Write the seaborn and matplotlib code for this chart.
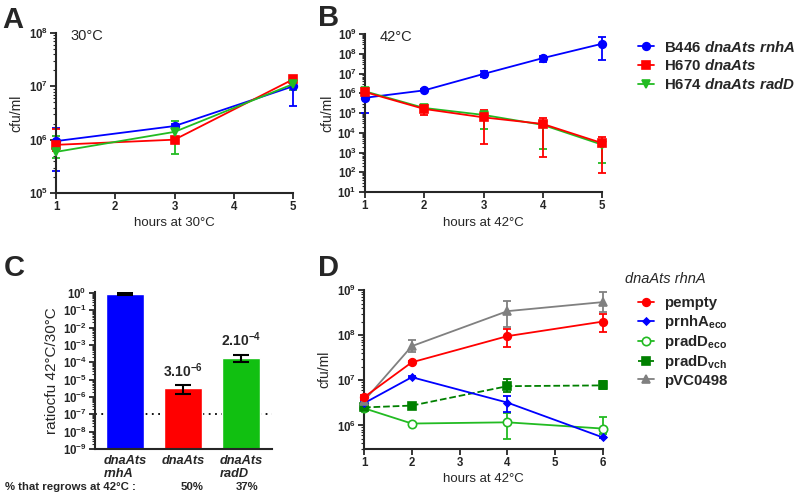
import numpy as np
import pandas as pd
import matplotlib
matplotlib.use("Agg")
import matplotlib.pyplot as plt
import matplotlib.ticker as mticker
import seaborn as sns

# ---------------------------------------------------------
# Data
# ---------------------------------------------------------
# A: 30C growth
hours_a = [1, 3, 5]
a_rnhA = [9.4e5, 1.8e6, 1.0e7]
a_rnhA_lo = [2.6e5, 1.65e6, 4.3e6]
a_rnhA_hi = [1.65e6, 1.95e6, 1.5e7]
a_dnaA = [8.0e5, 1.0e6, 1.35e7]
a_dnaA_lo = [6.0e5, 8.5e5, 1.15e7]
a_dnaA_hi = [1.6e6, 1.1e6, 1.5e7]
a_radD = [5.9e5, 1.4e6, 1.1e7]
a_radD_lo = [4.5e5, 5.4e5, 8.5e6]
a_radD_hi = [1.15e6, 2.25e6, 1.3e7]

# B: 42C growth
hours_b = [1, 2, 3, 4, 5]
b_rnhA = [5.9e5, 1.4e6, 9.5e6, 6.0e7, 3.2e8]
b_rnhA_lo = [1.0e5, 1.25e6, 7.0e6, 4.0e7, 5.0e7]
b_rnhA_hi = [9.0e5, 1.55e6, 1.3e7, 8.0e7, 7.0e8]
b_dnaA = [1.15e6, 1.6e5, 6.0e4, 2.8e4, 3.0e3]
b_dnaA_lo = [8.0e5, 8.0e4, 2.7e3, 6.0e2, 9.0e1]
b_dnaA_hi = [1.5e6, 2.5e5, 1.4e5, 5.5e4, 6.0e3]
b_radD = [1.25e6, 1.8e5, 8.0e4, 2.5e4, 2.5e3]
b_radD_lo = [1.0e6, 1.2e5, 1.5e4, 1.5e3, 3.0e2]
b_radD_hi = [1.5e6, 2.3e5, 1.0e5, 4.0e4, 4.0e3]

strain_labels = ["B446 dnaAts rnhA", "H670 dnaAts", "H674 dnaAts radD"]

# C: survival ratio
strains_c = ["dnaAts\nrnhA", "dnaAts", "dnaAts\nradD"]
ratio_c = [0.88, 3.2e-6, 1.9e-4]
ratio_c_lo = [0.80, 1.4e-6, 1.1e-4]
ratio_c_hi = [0.98, 4.7e-6, 2.8e-4]
ratio_text = ["", "3.10$^{-6}$", "2.10$^{-4}$"]
regrow_text = ["", "50%", "37%"]
detect_limit = 1e-7

# D: complementation at 42C
hours_d = [1, 2, 4, 6]
d_empty = [4.2e6, 2.5e7, 9.5e7, 2.0e8]
d_empty_lo = [3.6e6, 2.3e7, 5.4e7, 1.2e8]
d_empty_hi = [4.8e6, 2.7e7, 1.35e8, 3.0e8]
d_rnhA = [3.1e6, 1.17e7, 3.2e6, 5.4e5]
d_rnhA_lo = [2.8e6, 1.1e7, 1.95e6, 5.2e5]
d_rnhA_hi = [3.4e6, 1.25e7, 4.4e6, 5.6e5]
d_radD_eco = [2.4e6, 1.1e6, 1.17e6, 8.5e5]
d_radD_eco_lo = [2.2e6, 1.05e6, 4.9e5, 6.5e5]
d_radD_eco_hi = [2.6e6, 1.15e6, 1.85e6, 1.5e6]
d_radD_vch = [2.5e6, 2.75e6, 7.4e6, 7.7e6]
d_radD_vch_lo = [2.3e6, 2.6e6, 5.4e6, 6.3e6]
d_radD_vch_hi = [2.7e6, 2.9e6, 1.05e7, 9.5e6]
d_vc0498 = [3.5e6, 5.7e7, 3.4e8, 5.4e8]
d_vc0498_lo = [3.2e6, 4.2e7, 1.5e8, 3.2e8]
d_vc0498_hi = [3.8e6, 7.8e7, 5.8e8, 9.1e8]

plasmid_labels = ["pempty", "prnhA$_{\\mathrm{eco}}$", "pradD$_{\\mathrm{eco}}$",
                  "pradD$_{\\mathrm{vch}}$", "pVC0498"]

# ---------------------------------------------------------
# Style
# ---------------------------------------------------------
sns.set_style("ticks")
plt.rcParams["font.family"] = ["Liberation Sans", "DejaVu Sans"]
plt.rcParams["mathtext.fontset"] = "custom"
plt.rcParams["mathtext.rm"] = "Liberation Sans:bold"
plt.rcParams["mathtext.bf"] = "Liberation Sans:bold"
plt.rcParams["mathtext.it"] = "Liberation Sans:italic:bold"

BLUE = "#0000ff"
RED = "#ff0000"
GREEN = "#22bb22"
DKGREEN = "#008000"
GRAY = "#808080"
TICK_FS = 8.3
LAB_FS = 9.5
LEG_FS = 10.8
LW = 1.3


def px(x, y):
    return x / 800, 1 - y / 497


def log_axis(ax, lo, hi):
    ax.set_yscale("log")
    ax.set_ylim(lo, hi)
    ax.yaxis.set_major_locator(mticker.LogLocator(base=10, numticks=20))
    ax.yaxis.set_minor_locator(mticker.LogLocator(base=10, subs=np.arange(2, 10), numticks=20))
    ax.yaxis.set_minor_formatter(mticker.NullFormatter())
    ax.yaxis.set_major_formatter(
        mticker.FuncFormatter(lambda v, _: "$\\mathbf{10^{%d}}$" % int(round(np.log10(v)))))


def style_axis(ax):
    sns.despine(ax=ax)
    for s in ["left", "bottom"]:
        ax.spines[s].set_linewidth(1.5)
    ax.tick_params(which="major", direction="out", length=4, width=1.3, labelsize=TICK_FS, pad=2)
    ax.tick_params(which="minor", direction="out", length=2, width=0.8)
    for t in ax.get_xticklabels():
        t.set_fontweight("bold")


def draw_series(ax, x, y, lo, hi, color, marker, label, ms=5.5, ls="-", mfc=None):
    df = pd.DataFrame({"x": x, "y": y})
    sns.lineplot(data=df, x="x", y="y", ax=ax, color=color, marker=marker, markersize=ms,
                 markeredgecolor=color, markerfacecolor=mfc if mfc else color,
                 markeredgewidth=1.2, linestyle=ls, linewidth=LW, label=label,
                 legend=False, clip_on=False, zorder=3)
    y = np.array(y)
    err = [y - np.array(lo), np.array(hi) - y]
    eb = ax.errorbar(x, y, yerr=err, fmt="none", ecolor=color, elinewidth=LW,
                     capsize=3, capthick=LW, zorder=2)
    for art in list(eb.lines[1]) + list(eb.lines[2]):
        art.set_clip_on(False)


fig = plt.figure(figsize=(8, 4.97), dpi=100)

# ---------------------------------------------------------
# A
# ---------------------------------------------------------
axA = fig.add_axes([56 / 800, 1 - 193 / 497, 237 / 800, 160 / 497])
log_axis(axA, 1e5, 1e8)
draw_series(axA, hours_a, a_rnhA, a_rnhA_lo, a_rnhA_hi, BLUE, "o", strain_labels[0])
draw_series(axA, hours_a, a_dnaA, a_dnaA_lo, a_dnaA_hi, RED, "s", strain_labels[1])
draw_series(axA, hours_a, a_radD, a_radD_lo, a_radD_hi, GREEN, "v", strain_labels[2])
axA.set_xlim(1, 5)
axA.set_xticks([1, 2, 3, 4, 5])
axA.set_xlabel("hours at 30°C", fontsize=LAB_FS, labelpad=3)
axA.set_ylabel("cfu/ml", fontsize=10, labelpad=4)
axA.text(0.06, 0.98, "30°C", transform=axA.transAxes, fontsize=10.5, va="center")
style_axis(axA)

# ---------------------------------------------------------
# B
# ---------------------------------------------------------
axB = fig.add_axes([365 / 800, 1 - 192 / 497, 237 / 800, 158 / 497])
log_axis(axB, 1e1, 1e9)
draw_series(axB, hours_b, b_rnhA, b_rnhA_lo, b_rnhA_hi, BLUE, "o", strain_labels[0])
draw_series(axB, hours_b, b_radD, b_radD_lo, b_radD_hi, GREEN, "v", strain_labels[2])
draw_series(axB, hours_b, b_dnaA, b_dnaA_lo, b_dnaA_hi, RED, "s", strain_labels[1])
axB.set_xlim(1, 5)
axB.set_xticks([1, 2, 3, 4, 5])
axB.set_xlabel("hours at 42°C", fontsize=LAB_FS, labelpad=3)
axB.set_ylabel("cfu/ml", fontsize=10, labelpad=2)
axB.text(0.06, 0.98, "42°C", transform=axB.transAxes, fontsize=10.5, va="center")
style_axis(axB)

# legend A/B
hmap = {l.get_label(): l for l in axA.get_lines()}
leg_labels = ["B446 $\\mathit{dnaAts\\ rnhA}$", "H670 $\\mathit{dnaAts}$",
              "H674 $\\mathit{dnaAts\\ radD}$"]
legB = fig.legend([hmap[s] for s in strain_labels], leg_labels, loc="upper left",
                  bbox_to_anchor=px(633, 35), frameon=False, fontsize=LEG_FS,
                  handlelength=1.1, handletextpad=0.7, labelspacing=0.25,
                  borderaxespad=0, borderpad=0.3)
for t in legB.get_texts():
    t.set_fontweight("bold")

# ---------------------------------------------------------
# C
# ---------------------------------------------------------
axC = fig.add_axes([95 / 800, 1 - 449 / 497, 177 / 800, 157 / 497])
axC.set_yscale("log")
sns.barplot(x=strains_c, y=ratio_c, hue=strains_c, palette=[BLUE, RED, "#11c011"],
            legend=False, width=0.65, saturation=1, ax=axC, zorder=1)
xc = np.arange(len(strains_c))
rc = np.array(ratio_c)
axC.errorbar(xc, rc, yerr=[rc - np.array(ratio_c_lo), np.array(ratio_c_hi) - rc],
             fmt="none", ecolor="black", elinewidth=1.5, capsize=6, capthick=1.5, zorder=3)
axC.axhline(detect_limit, color="black", linestyle=(0, (1, 2.5)), linewidth=1.3, zorder=0)
log_axis(axC, 1e-9, 1.15)
axC.set_xlim(-0.52, 2.53)
axC.set_xticks(xc)
axC.set_xticklabels(strains_c, fontstyle="italic", fontweight="bold", fontsize=9,
                    multialignment="left")
for i, s in enumerate(ratio_text):
    if s:
        axC.text(xc[i], ratio_c_hi[i] * 2.0, s, ha="center", va="bottom",
                 fontsize=10, fontweight="bold")
axC.set_ylabel("ratiocfu 42°C/30°C", fontsize=11, labelpad=3)
axC.set_xlabel("")
style_axis(axC)
axC.tick_params(axis="x", length=0, pad=4, labelsize=9.2)
for t in axC.get_xticklabels():
    t.set_fontstyle("italic")
fig.text(*px(5, 487), "% that regrows at 42°C :", fontsize=8.2, fontweight="bold", va="center")
fig.text(*px(192, 487), regrow_text[1], fontsize=8.2, fontweight="bold", va="center", ha="center")
fig.text(*px(247, 487), regrow_text[2], fontsize=8.2, fontweight="bold", va="center", ha="center")

# ---------------------------------------------------------
# D
# ---------------------------------------------------------
axD = fig.add_axes([364 / 800, 1 - 449 / 497, 239 / 800, 159 / 497])
log_axis(axD, 3e5, 1e9)
draw_series(axD, hours_d, d_radD_eco, d_radD_eco_lo, d_radD_eco_hi, GREEN, "o",
            plasmid_labels[2], ms=6, mfc="white")
draw_series(axD, hours_d, d_radD_vch, d_radD_vch_lo, d_radD_vch_hi, DKGREEN, "s",
            plasmid_labels[3], ls="--")
draw_series(axD, hours_d, d_rnhA, d_rnhA_lo, d_rnhA_hi, BLUE, "D", plasmid_labels[1], ms=3.5)
draw_series(axD, hours_d, d_vc0498, d_vc0498_lo, d_vc0498_hi, GRAY, "^", plasmid_labels[4])
draw_series(axD, hours_d, d_empty, d_empty_lo, d_empty_hi, RED, "o", plasmid_labels[0])
axD.set_xlim(1, 6)
axD.set_xticks([1, 2, 3, 4, 5, 6])
axD.set_xlabel("hours at 42°C", fontsize=LAB_FS, labelpad=3)
axD.set_ylabel("cfu/ml", fontsize=10, labelpad=4)
style_axis(axD)

hmapD = {l.get_label(): l for l in axD.get_lines()}
legD = fig.legend([hmapD[s] for s in plasmid_labels], plasmid_labels, loc="upper left",
                  bbox_to_anchor=px(633, 292), frameon=False, fontsize=LEG_FS,
                  handlelength=1.1, handletextpad=0.7, labelspacing=0.15,
                  borderaxespad=0, borderpad=0.3)
for t in legD.get_texts():
    t.set_fontweight("bold")
fig.text(*px(625, 279), "dnaAts rhnA", fontsize=10.5, fontstyle="italic", va="center")

# panel letters
for letter, (x, y) in zip("ABCD", [(2, 20), (318, 18), (4, 268), (318, 268)]):
    fig.text(*px(x, y), letter, fontsize=21, fontweight="bold", va="center")

fig.savefig("out.png", dpi=100)
